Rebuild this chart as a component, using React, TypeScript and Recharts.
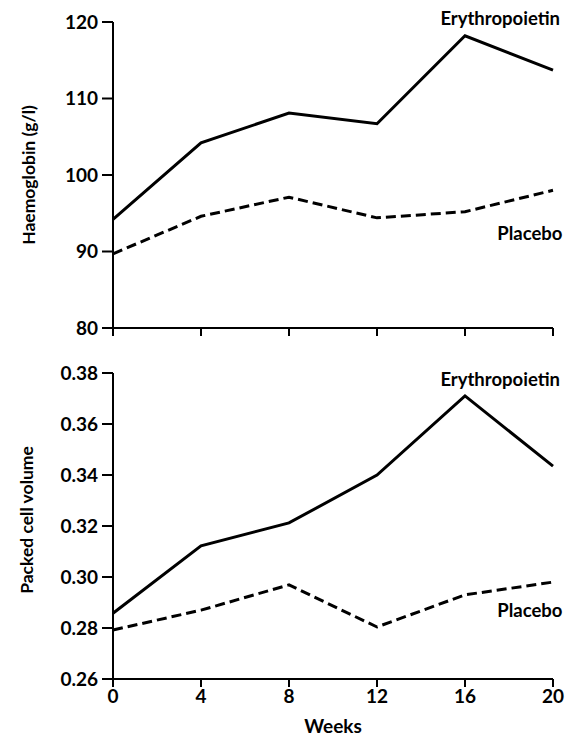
import React from 'react';
import { LineChart, Line, XAxis, YAxis, ReferenceDot } from 'recharts';

const weeks = [0, 4, 8, 12, 16, 20];
const hbErythro = [94.2, 104.2, 108.1, 106.7, 118.2, 113.7];
const hbPlacebo = [89.7, 94.6, 97.1, 94.4, 95.2, 98.0];
const pcvErythro = [0.2858, 0.3122, 0.3212, 0.34, 0.371, 0.3435];
const pcvPlacebo = [0.2792, 0.287, 0.2969, 0.2804, 0.293, 0.298];

const hbTicks = [80, 90, 100, 110, 120];
const pcvTicks = [0.26, 0.28, 0.3, 0.32, 0.34, 0.36, 0.38];

const hbData = weeks.map((w, i) => ({ week: w, erythro: hbErythro[i], placebo: hbPlacebo[i] }));
const pcvData = weeks.map((w, i) => ({ week: w, erythro: pcvErythro[i], placebo: pcvPlacebo[i] }));

const FONT = 'Lato, "Open Sans", sans-serif';
const tickStyle = { fill: '#000', fontSize: 19, fontWeight: 700, fontFamily: FONT };
const axisLine = { stroke: '#000', strokeWidth: 2 };
const tickLine = { stroke: '#000', strokeWidth: 2 };

const seriesLabel = (text: string) => ({
  value: text,
  position: 'center' as const,
  fill: '#000',
  fontSize: 18.5,
  fontWeight: 700,
  fontFamily: FONT,
});

export default function App() {
  return (
    <div style={{ position: 'absolute', left: 0, top: 0, width: 578, height: 738, background: '#fff' }}>
      <div style={{ position: 'absolute', left: 0, top: 0 }}>
        <LineChart width={578} height={340} data={hbData} margin={{ top: 22, right: 25, bottom: 0, left: 0 }}>
          <XAxis
            dataKey="week"
            type="number"
            domain={[0, 20]}
            ticks={weeks}
            height={12}
            tickSize={8}
            axisLine={axisLine}
            tickLine={tickLine}
            tickFormatter={() => ''}
          />
          <YAxis
            type="number"
            domain={[80, 120]}
            ticks={hbTicks}
            width={113}
            tickSize={11}
            tickMargin={4}
            axisLine={axisLine}
            tickLine={tickLine}
            tick={tickStyle}
            label={{ value: 'Haemoglobin (g/l)', angle: -90, position: 'center', dx: -28, fill: '#000', fontSize: 17.5, fontWeight: 700, fontFamily: FONT }}
          />
          <Line type="linear" dataKey="erythro" stroke="#000" strokeWidth={3} dot={false} isAnimationActive={false} />
          <Line type="linear" dataKey="placebo" stroke="#000" strokeWidth={3} strokeDasharray="10 5" dot={false} isAnimationActive={false} />
          <ReferenceDot x={17.6} y={120.5} r={0} fill="none" stroke="none" ifOverflow="visible" label={seriesLabel('Erythropoietin')} />
          <ReferenceDot x={18.95} y={92.3} r={0} fill="none" stroke="none" ifOverflow="visible" label={seriesLabel('Placebo')} />
        </LineChart>
      </div>
      <div style={{ position: 'absolute', left: 0, top: 340 }}>
        <LineChart width={578} height={398} data={pcvData} margin={{ top: 33, right: 25, bottom: 0, left: 0 }}>
          <XAxis
            dataKey="week"
            type="number"
            domain={[0, 20]}
            ticks={weeks}
            height={59}
            tickSize={8}
            tickMargin={3}
            axisLine={axisLine}
            tickLine={tickLine}
            tick={tickStyle}
            label={{ value: 'Weeks', position: 'insideBottom', offset: 5, fill: '#000', fontSize: 19, fontWeight: 700, fontFamily: FONT }}
          />
          <YAxis
            type="number"
            domain={[0.26, 0.38]}
            ticks={pcvTicks}
            width={113}
            tickSize={11}
            tickMargin={4}
            axisLine={axisLine}
            tickLine={tickLine}
            tick={tickStyle}
            tickFormatter={(v: number) => v.toFixed(2)}
            label={{ value: 'Packed cell volume', angle: -90, position: 'center', dx: -30, dy: -6, fill: '#000', fontSize: 17.5, fontWeight: 700, fontFamily: FONT }}
          />
          <Line type="linear" dataKey="erythro" stroke="#000" strokeWidth={3} dot={false} isAnimationActive={false} />
          <Line type="linear" dataKey="placebo" stroke="#000" strokeWidth={3} strokeDasharray="10 5" dot={false} isAnimationActive={false} />
          <ReferenceDot x={17.6} y={0.3776} r={0} fill="none" stroke="none" ifOverflow="visible" label={seriesLabel('Erythropoietin')} />
          <ReferenceDot x={18.95} y={0.2867} r={0} fill="none" stroke="none" ifOverflow="visible" label={seriesLabel('Placebo')} />
        </LineChart>
      </div>
    </div>
  );
}
